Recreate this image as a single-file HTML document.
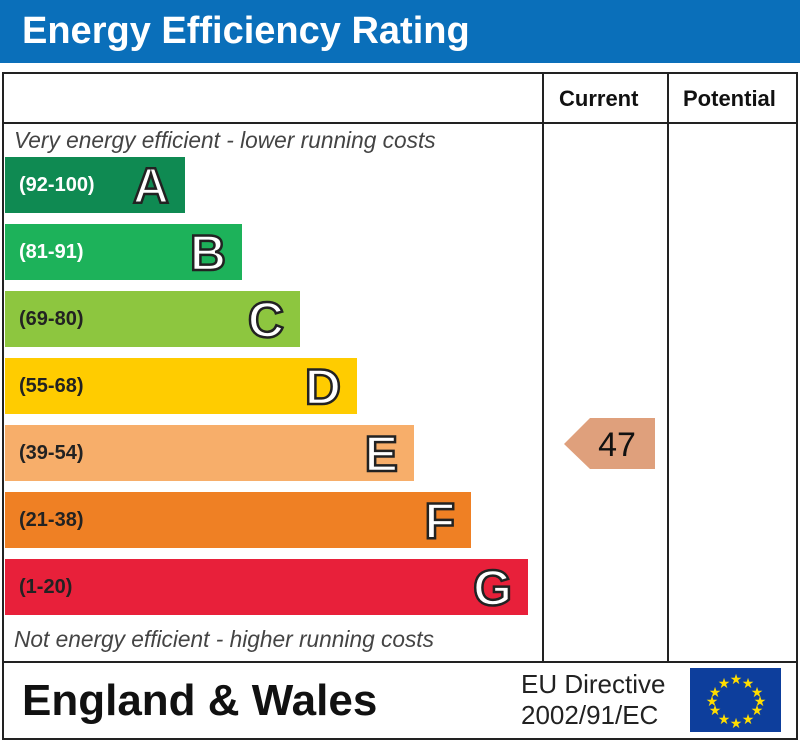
<!DOCTYPE html>
<html><head><style>
body{margin:0;width:800px;height:740px;background:#fff;font-family:"Liberation Sans",sans-serif;position:relative;overflow:hidden}
.a{position:absolute}
.bar{position:absolute;left:5px;height:56px}
.rng{position:absolute;left:14px;top:17px;font-size:20px;color:#fff;font-weight:bold}
.bar.l .rng{color:#222}
.let{position:absolute;right:16px;top:2px;font-size:50px;font-weight:bold;color:#fff;-webkit-text-stroke:2.5px #222;line-height:54px}
</style></head><body>
<div class="a" style="left:0;top:0;width:800px;height:63px;background:#0a6fba"></div>
<div class="a" style="left:22px;top:10px;font-size:38px;font-weight:bold;color:#fff">Energy Efficiency Rating</div>
<div class="a" style="left:2px;top:72px;width:792px;height:664px;border:2px solid #222"></div>
<div class="a" style="left:2px;top:122px;width:796px;height:2px;background:#222"></div>
<div class="a" style="left:2px;top:661px;width:796px;height:2px;background:#222"></div>
<div class="a" style="left:542px;top:72px;width:2px;height:590px;background:#222"></div>
<div class="a" style="left:667px;top:72px;width:2px;height:590px;background:#222"></div>
<div class="a" style="left:559px;top:86px;font-size:22px;font-weight:bold;color:#111">Current</div>
<div class="a" style="left:683px;top:86px;font-size:22px;font-weight:bold;color:#111">Potential</div>
<div class="a" style="left:14px;top:127px;font-size:22.7px;font-style:italic;color:#444">Very energy efficient - lower running costs</div>
<div class="a" style="left:14px;top:626px;font-size:22.7px;font-style:italic;color:#444">Not energy efficient - higher running costs</div>
<div class="bar" style="top:157px;width:180px;background:#0f8a52"><span class="rng">(92-100)</span><span class="let">A</span></div>
<div class="bar" style="top:224px;width:237px;background:#1db25a"><span class="rng">(81-91)</span><span class="let">B</span></div>
<div class="bar l" style="top:291px;width:295px;background:#8dc63f"><span class="rng">(69-80)</span><span class="let">C</span></div>
<div class="bar l" style="top:358px;width:352px;background:#ffcc00"><span class="rng">(55-68)</span><span class="let">D</span></div>
<div class="bar l" style="top:425px;width:409px;background:#f7ae6a"><span class="rng">(39-54)</span><span class="let">E</span></div>
<div class="bar l" style="top:492px;width:466px;background:#ef8024"><span class="rng">(21-38)</span><span class="let">F</span></div>
<div class="bar l" style="top:559px;width:523px;background:#e8203a"><span class="rng">(1-20)</span><span class="let">G</span></div>
<svg class="a" style="left:0;top:0" width="800" height="740">
<polygon points="564,444 590,418 655,418 655,469 590,469" fill="#dfa07c"/>
<text x="617" y="456" font-family="Liberation Sans" font-size="34" text-anchor="middle" fill="#111">47</text>
<rect x="690" y="668" width="91" height="64" fill="#0d3e9c"/>
<g fill="#ffdd00" font-size="14" text-anchor="middle" font-family="DejaVu Sans">
<text x="736" y="684">★</text><text x="748" y="688">★</text><text x="757" y="697">★</text><text x="760" y="706">★</text><text x="757" y="715">★</text><text x="748" y="724">★</text><text x="736" y="728">★</text><text x="724" y="724">★</text><text x="715" y="715">★</text><text x="712" y="706">★</text><text x="715" y="697">★</text><text x="724" y="688">★</text>
</g>
</svg>
<div class="a" style="left:22px;top:676px;font-size:44px;font-weight:bold;color:#111">England &amp; Wales</div>
<div class="a" style="left:521px;top:669px;font-size:26px;color:#222;line-height:31px">EU Directive<br>2002/91/EC</div>
</body></html>
